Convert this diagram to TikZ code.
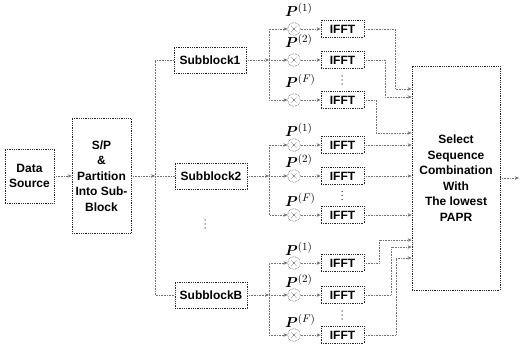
\documentclass[tikz,border=0pt]{standalone}
\usepackage{amsmath,bm}
\usepackage{fontspec}
\setmainfont{Liberation Sans}
\usetikzlibrary{arrows.meta,calc}
\begin{document}
\begin{tikzpicture}[x=1pt,y=-1pt,
  blk/.style={draw=black!85, densely dotted, line width=0.8pt, align=center,
    font=\fontsize{12}{15.5}\selectfont\bfseries, inner sep=0pt},
  conn/.style={draw=black!55, densely dotted, line width=0.6pt},
  arr/.style={conn, -{Stealth[length=4pt,width=3.5pt]}},
  mult/.style={circle, draw=black!70, densely dotted, line width=0.6pt, minimum size=12.5pt, inner sep=0pt,
    path picture={\draw[black!75,line width=0.5pt]
      ($(path picture bounding box.center)+(-3,-3)$) -- ($(path picture bounding box.center)+(3,3)$)
      ($(path picture bounding box.center)+(-3,3)$) -- ($(path picture bounding box.center)+(3,-3)$);}},
  plab/.style={inner sep=0pt, font=\fontsize{15}{15}\selectfont, anchor=base west},
  ifft/.style={blk, minimum width=43pt, minimum height=17pt},
  sbk/.style={blk, minimum width=72pt, minimum height=26pt},
  vdot/.style={circle, fill=black!70, inner sep=0pt, minimum size=1.5pt}
]
\useasboundingbox (0,0) rectangle (522,344);

\node[blk, minimum width=49pt, minimum height=54pt] (ds) at (29.5,176) {Data\\Source};
\node[blk, minimum width=59pt, minimum height=115pt] (sp) at (101.5,176) {S/P\\\&\\Partition\\Into Sub-\\Block};
\coordinate (tr) at (155,176);
\node[sbk] (sb1) at (210,60) {Subblock1};
\node[sbk] (sb2) at (211,176) {Subblock2};
\node[sbk] (sbB) at (211,295) {SubblockB};
\foreach \k in {-4,0,4} { \node[vdot] at (205,224+\k) {}; }

\coordinate (t1) at (155,60);
\coordinate (tB) at (155,295);
\draw[arr] (ds.east) -- (sp.west);
\draw[arr] (sp.east) -- (tr);
\draw[conn] (sb1.west) -- (t1) -- (tB) -- (sbB.west);
\draw[conn] (tr) -- (sb2.west);

\node[blk, minimum width=88pt, minimum height=224pt] (sel) at (456,178)
  {Select\\Sequence\\Combination\\With\\The lowest\\PAPR};
\coordinate (out) at (519,178);
\draw[arr] (sel.east) -- (out);

\foreach \g/\sb/\ya/\yb/\yc/\dy in {1/sb1/29/60/100/-12, 2/sb2/145/176/215/-8, 3/sbB/263/295/335/-7} {
  \coordinate (j\g) at (269,\yb);
  \draw[arr] (\sb.east) -- (j\g);
  \foreach \r/\y/\s in {1/\ya/1, 2/\yb/2, 3/\yc/F} {
    \node[mult] (m\g\r) at (294,\y) {};
    \node[plab] (p\g\r) at ($(m\g\r.center)+(-9,\dy)$) {$\bm{P}^{(\s)}$};
    \node[ifft] (f\g\r) at (342.5,\y) {IFFT};
    \draw[arr] (m\g\r) -- (f\g\r);
  }
  \draw[arr] (j\g) -- (m\g2);
  \draw[arr] (j\g) |- (m\g1);
  \draw[arr] (j\g) |- (m\g3);
  \foreach \k in {-4,0,4} { \node[vdot] at (342,{(\yb+\yc)/2+\k}) {}; }
}

\coordinate (k11) at (395,89);
\coordinate (k12) at (385,97);
\coordinate (k13) at (376,133);
\coordinate (k31) at (379,240);
\coordinate (k32) at (391,247);
\coordinate (k33) at (396,258);
\foreach \n in {11,12,13,31,32,33} {
  \draw[arr] (f\n.east) -| (k\n) -- (k\n -| sel.west);
}
\foreach \n in {21,22,23} {
  \draw[arr] (f\n.east) -- (f\n.east -| sel.west);
}
\end{tikzpicture}
\end{document}
